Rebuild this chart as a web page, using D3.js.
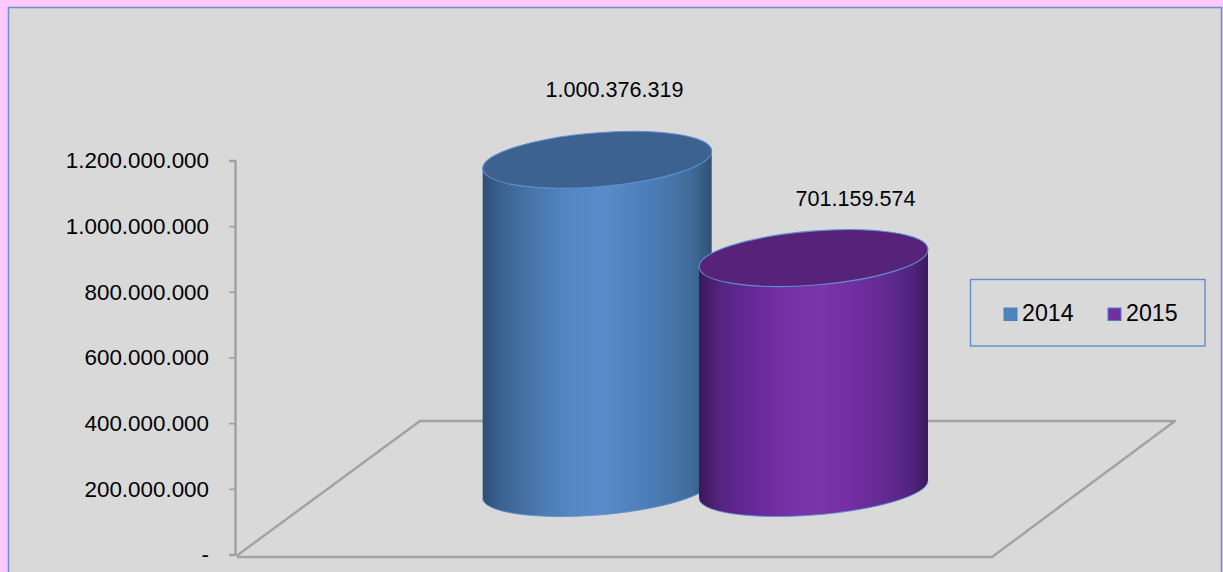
<!DOCTYPE html>
<html>
<head>
<meta charset="utf-8">
<script src="https://cdnjs.cloudflare.com/ajax/libs/d3/7.8.5/d3.min.js"></script>
<style>
html,body{margin:0;padding:0;background:#ffc9ff;overflow:hidden}
svg{display:block}
text{font-family:"Liberation Sans",Arial,sans-serif;fill:#000}
</style>
</head>
<body>
<svg id="chart" width="1223" height="572"></svg>
<script>
const categories = ["2014", "2015"];
const seriesValues = [1000376319, 701159574];
const valueLabels = ["1.000.376.319", "701.159.574"];
const axisTicks = [0, 200000000, 400000000, 600000000, 800000000, 1000000000, 1200000000];
const topColors = ["#3d6290", "#57237a"];
const swatchColors = ["#4f81bd", "#7030a0"];
const sideStops = [
  ["#2e4f75","#3c6493","#4a78ad","#5487c3","#5a8bcb","#4f81bc","#4776ab","#3f6a98","#2f5072"],
  ["#3a1858","#54257f","#66299a","#7431a5","#7a35aa","#722ea3","#632a90","#522480","#3c1a5c"]
];
const stopOffsets = [0,.09,.24,.38,.53,.67,.82,.92,1];

const svg = d3.select("#chart");
const y = d3.scaleLinear().domain([0, 1200000000]).range([554.5, 160.5]);
const x = d3.scalePoint().domain(categories).range([597.2, 813.5]);
const baseY = 489.5;
const depthA = 114.85, depthB = 25.5, topB = 27, tilt = -4.59;
const halfW = 114.5, edgeDy = 8.7, topLift = 1.2;

// frame
svg.append("rect").attr("x",8.5).attr("y",7.5).attr("width",1213).attr("height",600)
  .attr("fill","#d9d9d9").attr("stroke","#6c93d2").attr("stroke-width",1.6);

// floor
const floor = svg.append("g").attr("fill","none").attr("stroke","#a2a2a2").attr("stroke-width",2.4);
floor.append("path").attr("d",d3.line()([[237,555.5],[420,421],[1175,421],[992,557],[237,557]])).attr("stroke-linejoin","round");

// axis
const axis = d3.axisLeft(y).tickValues(axisTicks).tickSize(6).tickPadding(20)
  .tickFormat(d => d === 0 ? "-" : d3.format(",")(d).replace(/,/g,"."));
const gAxis = svg.append("g").attr("transform","translate(235,0)").call(axis);
gAxis.select(".domain").attr("stroke","#a0a0a0").attr("stroke-width",2.4);
gAxis.selectAll(".tick line").attr("stroke","#a0a0a0").attr("stroke-width",1.6);
gAxis.selectAll("text").attr("font-size",22.4).attr("fill","#000").attr("font-family","Liberation Sans, Arial, sans-serif");

// defs
const defs = svg.append("defs");
categories.forEach((c,i)=>{
  const g = defs.append("linearGradient").attr("id","side"+c).attr("x1",0).attr("x2",1).attr("y1",0).attr("y2",0);
  sideStops[i].forEach((col,k)=>g.append("stop").attr("offset",stopOffsets[k]).attr("stop-color",col));
});

// cylinders
const rim = "#5b8fd2";
categories.forEach((c,i)=>{
  const cx = x(c), top = baseY-(y(0)-y(seriesValues[i]));
  const g = svg.append("g");
  const arc = `A${depthA} ${depthB} ${tilt}`;
  g.append("path")
    .attr("d",`M${cx-halfW} ${top-topLift+edgeDy}L${cx-halfW} ${baseY+edgeDy}${arc} 0 0 ${cx+halfW} ${baseY-edgeDy}L${cx+halfW} ${top-topLift-edgeDy}Z`)
    .attr("fill",`url(#side${c})`);
  g.append("path")
    .attr("d",`M${cx-halfW} ${baseY+edgeDy}${arc} 0 0 ${cx+halfW} ${baseY-edgeDy}`)
    .attr("fill","none").attr("stroke",rim).attr("stroke-width",0.9);
  g.append("ellipse")
    .attr("cx",cx).attr("cy",top-topLift).attr("rx",depthA).attr("ry",topB)
    .attr("transform",`rotate(${tilt} ${cx} ${top-topLift})`)
    .attr("fill",topColors[i]).attr("stroke",rim).attr("stroke-width",1.1);
});

// value labels
const labelShift = [[17.3,-72],[42,-60.5]];
categories.forEach((c,i)=>{
  svg.append("text").attr("x",x(c)+labelShift[i][0]).attr("y",baseY-(y(0)-y(seriesValues[i]))+labelShift[i][1])
    .attr("text-anchor","middle").attr("dominant-baseline","central").attr("font-size",21.6).text(valueLabels[i]);
});

// legend
svg.append("rect").attr("x",970.5).attr("y",279.5).attr("width",234.5).attr("height",66.5)
  .attr("fill","none").attr("stroke","#5f8fcb").attr("stroke-width",1.4);
const lx = d3.scalePoint().domain(categories).range([1004,1108]);
categories.forEach((c,i)=>{
  svg.append("rect").attr("x",lx(c)).attr("y",308).attr("width",13).attr("height",12.5)
    .attr("fill",swatchColors[i]).attr("stroke","#4f81bd").attr("stroke-width",1);
  svg.append("text").attr("x",lx(c)+18).attr("y",313).attr("dominant-baseline","central").attr("font-size",23.2).text(c);
});
</script>
</body>
</html>
